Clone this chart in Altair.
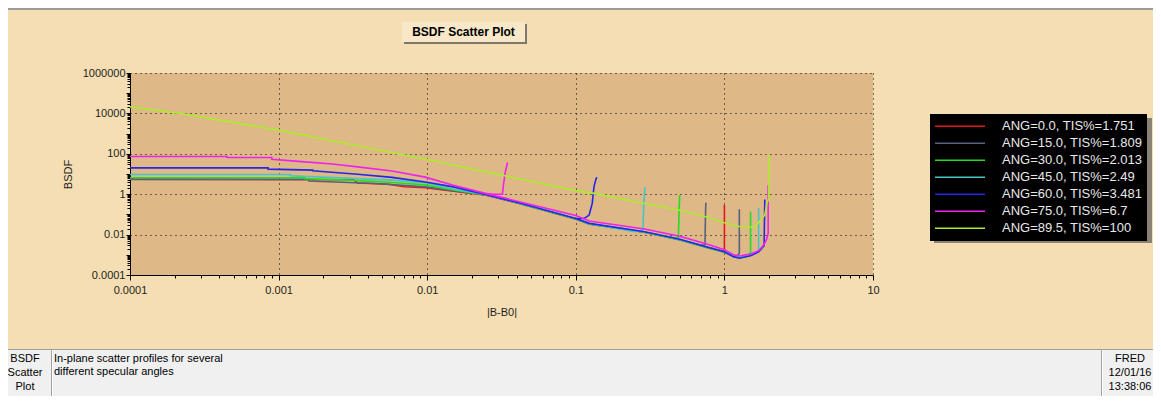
import json
import altair as alt
import pandas as pd

# ---------------- data ----------------
SERIES = ["ANG=0.0, TIS%=1.751", "ANG=15.0, TIS%=1.809", "ANG=30.0, TIS%=2.013",
          "ANG=45.0, TIS%=2.49", "ANG=60.0, TIS%=3.481", "ANG=75.0, TIS%=6.7",
          "ANG=89.5, TIS%=100"]
COLORS = ["#E81818", "#56627C", "#22DD22", "#42C6C6", "#2626E6", "#F020F0", "#ADEB2E"]

X_LABELS = ["0.0001", "0.001", "0.01", "0.1", "1", "10"]
Y_LABELS = ["0.0001", "0.01", "1", "100", "10000", "1000000"]

# ANG=0
A0_X = [0.0001, 0.0032, 0.0034, 0.0055, 0.007, 0.0097, 0.015, 0.025, 0.043, 0.1, 0.123,
        0.29, 0.5, 0.75, 0.95, 1.0, 1.0]
A0_Y = [5.6, 5.2, 3.6, 3.1, 2.35, 2.1, 1.4, 0.9, 0.33, 0.06, 0.034,
        0.013, 0.0056, 0.0025, 0.0016, 0.0017, 0.29]

# ANG=15
A15_X = [0.0001, 0.0016, 0.0016, 0.0045, 0.0097, 0.015, 0.025, 0.043, 0.1, 0.123, 0.29,
         0.5, 0.75, 1.0, 1.15, 1.22, 1.26, 1.26]
A15_Y = [5.4, 5.4, 4.5, 3.4, 2.3, 1.5, 0.92, 0.33, 0.06, 0.034, 0.013,
         0.0056, 0.0024, 0.00135, 0.00085, 0.0009, 0.0012, 0.178]
A15_FX = [0.5, 0.7, 0.74, 0.745, 0.75]
A15_FY = [0.0056, 0.003, 0.003, 0.06, 0.38]

# ANG=30
A30_X = [0.0001, 0.0015, 0.0015, 0.003, 0.0058, 0.0097, 0.015, 0.025, 0.043, 0.1, 0.123,
         0.29, 0.5, 0.75, 1.0, 1.15, 1.26, 1.4, 1.48, 1.5, 1.5]
A30_Y = [6.5, 6.5, 5.8, 5.0, 3.8, 2.9, 1.6, 0.93, 0.33, 0.06, 0.034,
         0.013, 0.0056, 0.0024, 0.00135, 0.00083, 0.00075, 0.00085, 0.0011, 0.0014, 0.135]
A30_FX = [0.29, 0.47, 0.49, 0.495, 0.5]
A30_FY = [0.013, 0.0068, 0.0072, 0.1, 0.9]

# ANG=45
A45_X = [0.0001, 0.0012, 0.0012, 0.0025, 0.0058, 0.0097, 0.015, 0.025, 0.043, 0.1, 0.123,
         0.29, 0.5, 0.75, 1.0, 1.15, 1.26, 1.5, 1.65, 1.7, 1.7]
A45_Y = [9.5, 9.5, 8.1, 6.5, 5.0, 3.7, 1.8, 0.95, 0.34, 0.062, 0.035,
         0.0135, 0.0058, 0.0025, 0.0014, 0.00085, 0.00072, 0.00095, 0.0013, 0.0017, 0.2]
A45_FX = [0.123, 0.25, 0.283, 0.287, 0.292]
A45_FY = [0.035, 0.014, 0.017, 0.4, 2.2]

# ANG=60
A60_X = [0.0001, 0.00085, 0.00085, 0.0017, 0.0017, 0.0034, 0.0058, 0.0097, 0.015, 0.025,
         0.043, 0.1, 0.123, 0.29, 0.5, 0.75, 1.0, 1.15, 1.26, 1.5, 1.7, 1.85, 1.87]
A60_Y = [20, 20, 17.4, 15.5, 14.3, 9.8, 6.8, 4.0, 2.3, 0.95,
         0.35, 0.063, 0.036, 0.0138, 0.0059, 0.0025, 0.0014, 0.00081, 0.00068, 0.00089,
         0.0014, 0.0028, 0.55]
A60_FX = [0.1, 0.114, 0.123, 0.129, 0.1325, 0.137, 0.139]
A60_FY = [0.063, 0.063, 0.093, 0.35, 2.3, 6.0, 6.8]

# ANG=75
A75_X = [0.0001, 0.00045, 0.00045, 0.0009, 0.0009, 0.00136, 0.0023, 0.0034, 0.0058, 0.0097,
         0.015, 0.025, 0.043, 0.1, 0.123, 0.29, 0.5, 0.75, 1.0, 1.15, 1.26, 1.5, 1.7, 1.85,
         1.93, 1.97, 1.97]
A75_Y = [74, 74, 66, 66, 54, 42, 31, 22.6, 14, 7.0,
         2.8, 1.07, 0.40, 0.089, 0.047, 0.019, 0.0083, 0.0035, 0.0018, 0.0010, 0.00087,
         0.0011, 0.0016, 0.0032, 0.0063, 0.0115, 2.8]
A75_FX = [0.025, 0.028, 0.0321, 0.0326, 0.0335, 0.0347]
A75_FY = [1.07, 1.0, 1.0, 3.0, 12, 37]

# ANG=89.5
A89_X = [0.0001, 0.00022, 0.00047, 0.001, 0.0022, 0.0048, 0.0105, 0.1, 0.133, 0.29, 0.5,
         0.75, 1.0, 1.26, 1.6, 1.75, 1.87, 1.93, 1.99, 2.0]
A89_Y = [21000, 9800, 3800, 1480, 470, 150, 48, 1.5, 1.1, 0.35, 0.16,
         0.076, 0.039, 0.025, 0.023, 0.052, 0.093, 0.35, 0.6, 90]

BRANCHES = [
    (SERIES[0], "main", A0_X, A0_Y),
    (SERIES[1], "main", A15_X, A15_Y), (SERIES[1], "fwd", A15_FX, A15_FY),
    (SERIES[2], "main", A30_X, A30_Y), (SERIES[2], "fwd", A30_FX, A30_FY),
    (SERIES[3], "main", A45_X, A45_Y), (SERIES[3], "fwd", A45_FX, A45_FY),
    (SERIES[4], "main", A60_X, A60_Y), (SERIES[4], "fwd", A60_FX, A60_FY),
    (SERIES[5], "main", A75_X, A75_Y), (SERIES[5], "fwd", A75_FX, A75_FY),
    (SERIES[6], "main", A89_X, A89_Y),
]

rows = []
for s, b, xs, ys in BRANCHES:
    for i, (xv, yv) in enumerate(zip(xs, ys)):
        rows.append({"series": s, "key": s + "|" + b, "i": i, "x": xv, "y": yv})
df = pd.DataFrame(rows)

# tick values (decades with minor 2..9)
X_TICKS = [k * 10.0 ** n for n in range(-4, 1) for k in range(1, 10)] + [10.0]
Y_TICKS = [k * 10.0 ** n for n in range(-4, 6) for k in range(1, 10)] + [10.0 ** 6]

FONT = "Liberation Sans"
TXT = "#1E1E1E"
DECADE = "abs(log(datum.value)/LN10 - round(log(datum.value)/LN10)) < 1e-6"
xlab = json.dumps(X_LABELS).replace('"', "'")
ylab = json.dumps(Y_LABELS).replace('"', "'")
XMAJ = f"indexof({xlab}, '' + datum.value) >= 0"
YMAJ = f"indexof({ylab}, '' + datum.value) >= 0"

# plot area: page (130,73)-(873,275); chart origin at page (8,8)
W, H = 743, 202
PAD = {"left": 122, "top": 65, "right": 280, "bottom": 121}

x_axis = alt.Axis(
    values=X_TICKS, labelExpr=f"{XMAJ} ? '' + datum.value : ''", labelOverlap=False,
    labelFlush=False, grid=True, gridColor="black", gridDash=[1, 4], gridWidth=1,
    gridOpacity={"condition": {"test": XMAJ, "value": 1}, "value": 0},
    tickSize={"condition": {"test": DECADE, "value": 5}, "value": 3},
    tickColor="black", domainColor="black", labelFont=FONT, labelFontSize=11,
    labelColor=TXT, labelPadding=4, title="|B-B0|", titleFont=FONT, titleFontSize=11,
    titleFontWeight="normal", titleColor=TXT, titleY=37, titleBaseline="middle",
)
y_axis = alt.Axis(
    values=Y_TICKS, labelExpr=f"{YMAJ} ? '' + datum.value : ''", labelOverlap=False,
    labelFlush=False, grid=True, gridColor="black", gridDash=[1, 4], gridWidth=1,
    gridOpacity={"condition": {"test": YMAJ, "value": 1}, "value": 0},
    tickSize={"condition": {"test": DECADE, "value": 4}, "value": 3},
    tickColor="black", domainColor="black", labelFont=FONT, labelFontSize=11,
    labelColor=TXT, labelPadding=1, title="BSDF", titleFont=FONT, titleFontSize=11,
    titleFontWeight="normal", titleColor=TXT, titleX=-62, titleY=H / 2, titleAngle=-90,
    titleAlign="center", titleBaseline="middle",
)

lines = alt.Chart(df).mark_line(strokeWidth=1.6, clip=True).encode(
    x=alt.X("x:Q", scale=alt.Scale(type="log", domain=[1e-4, 10], nice=False), axis=x_axis),
    y=alt.Y("y:Q", scale=alt.Scale(type="log", domain=[1e-4, 1e6], nice=False), axis=y_axis),
    color=alt.Color("series:N", scale=alt.Scale(domain=SERIES, range=COLORS),
                    legend=alt.Legend(orient="none", legendX=800, legendY=41, title=None,
                                      fillColor="black", padding=4, symbolType="stroke",
                                      symbolSize=2500, symbolStrokeWidth=1.5,
                                      labelColor="#E8E8E8", labelFont=FONT,
                                      labelFontSize=13, labelOffset=16, clipHeight=16.67,
                                      rowPadding=0, labelLimit=400)),
    detail="key:N",
    order="i:Q",
)

one = pd.DataFrame({"a": [0]})


def box(x1, x2, y1, y2, color):
    return alt.Chart(one).mark_rect(color=color).encode(
        x=alt.value(x1), x2=alt.value(x2), y=alt.value(y1), y2=alt.value(y2))


def label(x, y, text, align="left", size=11, weight="normal", baseline="top", lh=14):
    return alt.Chart(one).mark_text(align=align, baseline=baseline, font=FONT, fontSize=size,
                                    fontWeight=weight, color="black", lineBreak="\n",
                                    lineHeight=lh).encode(
        x=alt.value(x), y=alt.value(y), text=alt.value(text))


deco = [
    box(-122, 1023, -65, -63, "#9C9C9C"),                 # window border line
    box(274, 397, -49, -29, "#7E786C"),                   # title shadow
    box(272, 395, -51, -31, "#F8E8C8"),                   # title box
    label(333.5, -41, "BSDF Scatter Plot", align="center", size=12, weight="bold",
          baseline="middle"),
    box(804, 1022, 45, 170, "#8A8272"),                   # legend shadow
    box(-122, 1023, 276, 333, "#F0F0F0"),                 # status bar
    box(-122, 1023, 276, 277, "#A0A0A0"),
    box(-79, -78, 277, 333, "#A0A0A0"),
    box(-78, -77, 277, 333, "#FFFFFF"),
    box(971, 972, 277, 333, "#A0A0A0"),
    box(972, 973, 277, 333, "#FFFFFF"),
    label(-105, 280, "BSDF\nScatter\nPlot", align="center"),
    label(-76, 280, "In-plane scatter profiles for several\ndifferent specular angles",
          lh=13),
    label(1000, 280, "FRED\n12/01/16\n13:38:06", align="center"),
]

chart = alt.layer(*deco[:5], lines, *deco[5:]).properties(
    width=W, height=H, padding=PAD, background="#F5DEB3",
    autosize=alt.AutoSizeParams(type="none"),
).configure_view(fill="#DEB887", stroke=None)

chart.save("out.html", embed_options={"renderer": "svg", "actions": False})
